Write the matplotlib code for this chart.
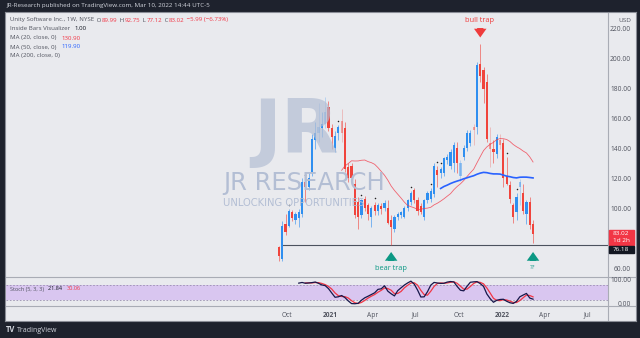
import numpy as np
import pandas as pd
import matplotlib
matplotlib.use("Agg")
import matplotlib.pyplot as plt
import matplotlib.dates as mdates
from matplotlib.lines import Line2D

W, H = 640, 338

# weekly candles, Unity Software (U), from the IPO week
weeks = pd.date_range("2020-09-14", periods=78, freq="7D")
opens = [75, 67, 90, 89, 98, 93, 94, 97, 118, 115, 124, 146, 151, 154, 157, 168, 154, 141, 151, 159,
         154, 128, 129, 117, 105, 96, 107, 103, 95, 103, 99, 102, 101, 101, 93, 87, 95, 96, 95, 101,
         105, 113, 106, 102, 95, 106, 107, 110, 126, 124, 124, 133, 129, 131, 141, 122, 135, 141, 144, 155,
         155, 197, 193, 185, 144, 140, 137, 146, 144, 122, 116, 103, 98, 115, 111, 97, 105, 89.99]
highs = [75.6, 92, 97, 100, 99.5, 98, 100, 121, 120, 124, 150, 158, 171, 165, 175, 172, 157, 152, 156, 167,
         158, 131, 131, 120, 108, 107, 109, 104, 102, 105, 104, 104, 106, 106, 96, 96, 98, 99, 102, 107,
         112, 114, 108, 104, 107, 112, 114, 131, 129, 128, 135, 137, 140, 145, 145, 133, 143, 153, 153, 157,
         198, 210, 195, 190, 155, 146, 150, 150, 147, 135, 119, 104, 111, 120, 117, 106, 108, 92.75]
lows = [65.1, 65.5, 83, 88, 92, 90, 88, 95, 105, 113, 122, 140, 145, 148, 154, 152, 140, 138, 146, 145,
        125, 118, 118, 94, 87, 94, 99, 93, 88, 96, 96, 97, 99, 90, 76.18, 85, 93, 94, 94, 99,
        103, 104, 96, 97, 93, 104, 105, 108, 115, 121, 122, 130, 127, 125, 124, 119, 133, 139, 142, 143,
        150, 185, 171, 145, 128, 131, 134, 140, 115, 116, 104, 91, 93, 103, 97, 90, 87, 77.12]
closes = [68.35, 89, 84.5, 99, 94, 97, 98, 118, 115, 121, 147, 151, 155, 157, 165, 154, 148, 149, 155, 151,
          127, 121, 121, 96, 95, 106, 101, 97, 101, 99, 103, 100, 104, 91, 88, 95, 97, 98, 101, 106,
          111, 106, 99, 98, 106, 111, 112, 129, 123, 127, 134, 135, 138, 143, 131, 131, 141, 151, 151, 153,
          196, 189, 180, 147, 140, 138, 148, 143, 121, 117, 107, 95, 108, 118, 99, 105, 89.01, 83.02]
inside_bars = [3, 8, 18, 25, 29, 40, 46, 48, 49, 69, 72]
pale_bars = [12, 14, 19, 55, 59, 64, 67, 73]
support = 76.18

price_ticks = [60, 100, 120, 140, 160, 180, 200, 220]
time_ticks = ["2020-10-01", "2021-01-01", "2021-04-01", "2021-07-01",
              "2021-10-01", "2022-01-01", "2022-04-01", "2022-07-01"]
time_labels = ["Oct", "2021", "Apr", "Jul", "Oct", "2022", "Apr", "Jul"]

UP, DOWN = "#2f8ff0", "#f0443c"
RED, BLUE, GRAY = "#f23645", "#2962ff", "#50535e"
WM = "#b3bed4"

df = pd.DataFrame({"o": opens, "h": highs, "l": lows, "c": closes}, index=weeks)
ma20 = df["c"].rolling(20).mean()
ma50 = df["c"].rolling(50).mean()
raw = 100 * (df["c"] - df["l"].rolling(5).min()) / (df["h"].rolling(5).max() - df["l"].rolling(5).min())
k = raw.rolling(3).mean()
d = k.rolling(3).mean()

plt.rcParams["font.family"] = ["Open Sans", "DejaVu Sans"]
fig = plt.figure(figsize=(6.4, 3.38), dpi=100, facecolor="#1e222d")


def box(x0, y0, x1, y1):
    return [x0 / W, 1 - y1 / H, (x1 - x0) / W, (y1 - y0) / H]


def fx(x):
    return x / W


def fy(y):
    return 1 - y / H


bg = fig.add_axes(box(5, 12, 636, 321))
bg.set_facecolor("#e9eaee")
bg.set_xticks([])
bg.set_yticks([])
for s in bg.spines.values():
    s.set_color("#8a8d96")
    s.set_linewidth(0.8)

ax = fig.add_axes(box(6, 13, 608, 277))
st = fig.add_axes(box(6, 277, 608, 306), sharex=ax)
for a in (ax, st):
    a.patch.set_alpha(0)
    for s in a.spines.values():
        s.set_visible(False)
    a.tick_params(length=0)
    a.set_yticks([])

base = weeks[0]
x0 = mdates.date2num(base - pd.Timedelta(days=579))
x1 = mdates.date2num(base + pd.Timedelta(days=698))
ax.set_xlim(x0, x1)
ax.set_ylim(54.67, 230.67)
st.set_ylim(-4, 112)

# watermark
fig.text(fx(296), fy(132), "JR", fontsize=54, fontweight="bold", color=WM,
         ha="center", va="center", family="DejaVu Sans", zorder=1, alpha=0.7)
fig.text(fx(304), fy(183), "JR RESEARCH", fontsize=17.5, color=WM, ha="center", va="center",
         family="DejaVu Sans", zorder=1)
fig.text(fx(294), fy(202.5), "UNLOCKING OPPORTUNITIES", fontsize=7.2, color=WM, ha="center",
         va="center", family="DejaVu Sans", zorder=1)

# candles
xs = mdates.date2num(weeks)
for i in range(len(weeks)):
    up = closes[i] >= opens[i]
    col = UP if up else DOWN
    alpha = 0.45 if i in pale_bars else 1.0
    ax.vlines(xs[i], lows[i], highs[i], color=col, lw=0.7, alpha=alpha * 0.6, zorder=3)
    lo_b = min(opens[i], closes[i])
    hgt = max(abs(closes[i] - opens[i]), 0.6)
    ax.bar(xs[i], hgt, bottom=lo_b, width=4.6, color=col, alpha=alpha, linewidth=0, zorder=4)
for i in inside_bars:
    ax.plot(xs[i], highs[i] + 2.5, "o", ms=1.1, color="#222222", mew=0, zorder=5)

ax.plot(xs, ma20, color=RED, lw=0.6, alpha=0.75, zorder=5)
ax.plot(xs, ma50, color=BLUE, lw=1.2, zorder=5)
ax.hlines(support, xs[1], x1, color="#4c525e", lw=0.8, zorder=2)

# annotations
arrow = dict(arrowstyle="simple,head_width=1.0,head_length=0.7,tail_width=0.5", lw=0, mutation_scale=9)
ax.annotate("", xy=(xs[61], 212.5), xytext=(xs[61], 222.5), arrowprops=dict(color="#ef3b3b", **arrow))
ax.text(xs[61] - 2, 226, "bull trap", color="#ef3b3b", fontsize=5.3, ha="center", va="center")
ax.annotate("", xy=(xs[34], 73.2), xytext=(xs[34], 63.5), arrowprops=dict(color="#0c9884", **arrow))
ax.text(xs[34], 60.4, "bear trap", color="#0c9884", fontsize=5.3, ha="center", va="center")
ax.annotate("", xy=(xs[77], 73.2), xytext=(xs[77], 63.5), arrowprops=dict(color="#0c9884", **arrow))
ax.text(xs[77], 61.0, "??", color="#0c9884", fontsize=4.5, ha="center", va="center")

# stochastic
st.axhspan(20, 80, color="#d9c6f0", lw=0, zorder=1)
for v in (20, 80):
    st.axhline(v, color="#9a8fb0", lw=0.6, ls=(0, (2, 2)), zorder=2)
st.plot(xs, k, color="#17174a", lw=0.9, zorder=4)
st.plot(xs, d, color=RED, lw=0.9, zorder=3)
st.set_xticks([mdates.date2num(pd.Timestamp(t)) for t in time_ticks])
st.set_xticklabels(time_labels)
st.tick_params(axis="x", labelsize=4.8, labelcolor=GRAY, pad=4)
for lab in st.get_xticklabels():
    if lab.get_text().startswith("20"):
        lab.set_fontweight("bold")
ax.tick_params(axis="x", labelbottom=False)

# price scale labels
for v in price_ticks:
    fig.text(fx(631), ax.transData.transform((0, v))[1] / fig.bbox.height, f"{v:.2f}",
             fontsize=4.8, color=GRAY, ha="right", va="center")
fig.text(fx(631), fy(20), "USD", fontsize=4.6, color=GRAY, ha="right", va="center")
fig.text(fx(631), fy(280.5), "100.00", fontsize=4.8, color=GRAY, ha="right", va="center")
fig.text(fx(631), fy(304), "0.00", fontsize=4.8, color=GRAY, ha="right", va="center")
fig.patches.append(plt.Rectangle((fx(609), fy(245)), fx(25), 15 / H, transform=fig.transFigure,
                                 color="#f23645", zorder=5))
fig.text(fx(621), fy(233.5), "83.02", fontsize=4.6, color="white", ha="center", va="center", zorder=6)
fig.text(fx(621), fy(240.5), "1d 2h", fontsize=4.6, color="white", ha="center", va="center", zorder=6)
fig.patches.append(plt.Rectangle((fx(609), fy(253)), fx(25), 7.5 / H, transform=fig.transFigure,
                                 color="#131722", zorder=5))
fig.text(fx(621), fy(249.3), "76.18", fontsize=4.6, color="white", ha="center", va="center", zorder=6)

# frame separators
sep = "#a9acb5"
for line in ([fx(608), fx(608)], [fy(13), fy(320)]), ([fx(6), fx(635)], [fy(277), fy(277)]), \
        ([fx(6), fx(635)], [fy(306), fy(306)]):
    fig.add_artist(Line2D(line[0], line[1], color=sep, lw=0.8, transform=fig.transFigure))

# legend text
renderer = fig.canvas.get_renderer()


def legend_line(x, y, parts, size=4.4):
    for txt, col in parts:
        t = fig.text(fx(x), fy(y), txt, fontsize=size, color=col, ha="left", va="center", zorder=7)
        x = t.get_window_extent(renderer).x1 + (3.0 if txt.endswith(" ") else 0.6)


legend_line(10, 20, [("Unity Software Inc., 1W, NYSE", GRAY), (" O", GRAY), ("89.99", RED), (" H", GRAY),
                     ("92.75", RED), (" L", GRAY), ("77.12", RED), (" C", GRAY), ("83.02", RED),
                     (" \u22125.99 (\u22126.73%)", RED)])
legend_line(10, 29, [("Inside Bars Visualizer ", GRAY), ("1.00", "#131722")])
legend_line(10, 38, [("MA (20, close, 0) ", GRAY), ("130.90", RED)])
legend_line(10, 47, [("MA (50, close, 0) ", GRAY), ("119.90", BLUE)])
legend_line(10, 56, [("MA (200, close, 0)", GRAY)])
legend_line(10, 289, [("Stoch (5, 3, 3) ", GRAY), ("21.84 ", "#131722"), ("30.06", RED)], size=4.0)

fig.text(fx(6), fy(6), "JR-Research published on TradingView.com, Mar 10, 2022 14:44 UTC-5",
         fontsize=4.5, color="#d1d4dc", ha="left", va="center")
fig.text(fx(6), fy(330), "TV", fontsize=5.5, fontweight="bold", color="#d1d4dc", ha="left", va="center")
fig.text(fx(17), fy(330), "TradingView", fontsize=5, color="#d1d4dc", ha="left", va="center")

fig.savefig("out.png", dpi=100, facecolor=fig.get_facecolor())
